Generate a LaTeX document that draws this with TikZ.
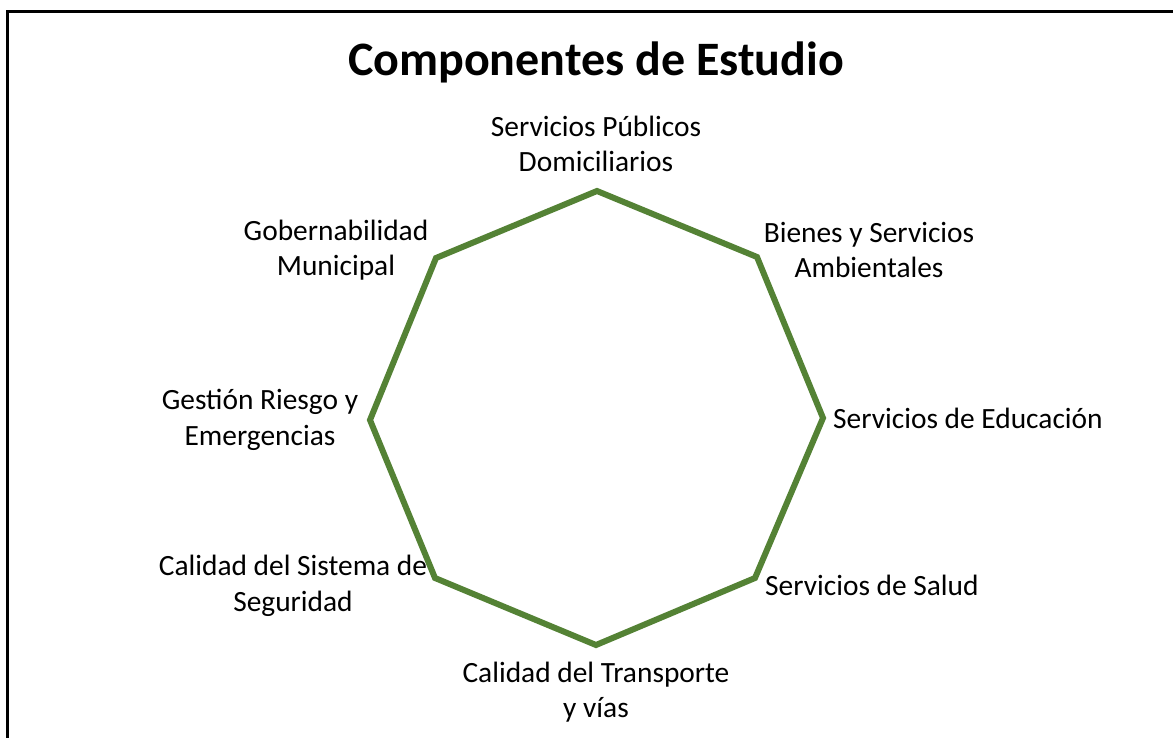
\documentclass[tikz,border=0pt]{standalone}
\usepackage{fontspec}
\setmainfont{Carlito}
\definecolor{octgreen}{RGB}{84,130,53}
\begin{document}
\begin{tikzpicture}[x=1pt,y=-1pt,
  lbl/.style={align=center,inner sep=0pt,font=\fontsize{29.4}{35.5}\selectfont},
  ttl/.style={inner sep=0pt,font=\fontsize{48}{58}\selectfont\bfseries},
  oct/.style={draw=octgreen,line width=6pt,line join=miter},
  frame/.style={draw=black,line width=3pt}]
\useasboundingbox (0,0) rectangle (1173,738);
\draw[frame] (7,738) -- (7,12) -- (1173,12);
\node[ttl] (title) at (596,62) {Componentes de Estudio};
\coordinate (v1) at (597,191);
\coordinate (v2) at (757,257);
\coordinate (v3) at (823,418);
\coordinate (v4) at (755,578);
\coordinate (v5) at (596,645);
\coordinate (v6) at (435,578);
\coordinate (v7) at (370,420);
\coordinate (v8) at (436,258);
\draw[oct] (v1) -- (v2) -- (v3) -- (v4) -- (v5) -- (v6) -- (v7) -- (v8) -- cycle;
\node[lbl] (l1) at (596,144) {Servicios Públicos\\Domiciliarios};
\node[lbl] (l2) at (869,250) {Bienes y Servicios\\Ambientales};
\node[lbl,anchor=west] (l3) at (833,418) {Servicios de Educación};
\node[lbl,anchor=west] (l4) at (765,585) {Servicios de Salud};
\node[lbl] (l5) at (596,692) {Calidad del Transporte\\y vías};
\node[lbl] (l6) at (293,586) {Calidad del Sistema de\\Seguridad};
\node[lbl] (l7) at (260,420) {Gestión Riesgo y\\Emergencias};
\node[lbl] (l8) at (336,250) {Gobernabilidad\\Municipal};
\end{tikzpicture}
\end{document}
